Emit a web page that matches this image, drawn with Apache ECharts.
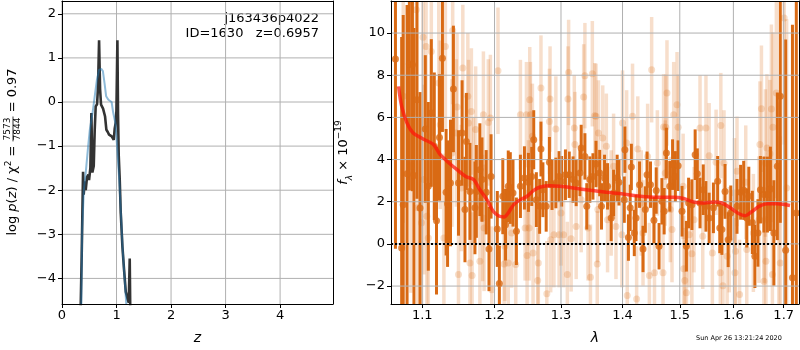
<!DOCTYPE html>
<html>
<head>
<meta charset="utf-8">
<script src="https://cdn.jsdelivr.net/npm/echarts@6/dist/echarts.min.js"></script>
<style>
  html, body { margin: 0; padding: 0; background: #fff; }
  #chart { width: 800px; height: 350px; }
</style>
</head>
<body>
<div id="chart"></div>
<script>
/* p(z) panel */
var pzZ = [0.337, 0.361, 0.386, 0.398, 0.417, 0.435, 0.459, 0.484, 0.496, 0.52, 0.539, 0.557, 0.582, 0.60, 0.618,
  0.643, 0.661, 0.680, 0.698, 0.716, 0.753, 0.79, 0.814, 0.839, 0.863, 0.887, 0.912, 0.949, 0.967, 0.985,
  0.998, 1.016, 1.028, 1.04, 1.059, 1.077, 1.108, 1.138, 1.169, 1.2, 1.224, 1.242, 1.254]
var pzLogP = [-5.0, -3.5, -1.58, -2.1, -1.8, -2.0, -1.7, -1.65, -1.77, -1.5, -0.25, -1.6, -1.45, -0.63, -0.1,
  -0.05, 0.35, 1.40, 0.3, -0.06, -0.15, -0.33, -0.63, -0.68, -0.74, -0.72, -0.78, -0.86, -0.6, -0.47,
  -0.2, 1.40, -0.3, -1.2, -1.77, -2.5, -3.28, -3.8, -4.3, -4.45, -4.55, -3.55, -5.0]
var fitZ = [0.35, 0.37, 0.40, 0.44, 0.48, 0.51, 0.56, 0.60, 0.64, 0.68, 0.72, 0.75, 0.78, 0.81, 0.85, 0.88,
  0.91, 0.94, 0.98, 1.01, 1.05, 1.08, 1.11, 1.15, 1.18, 1.21]
var fitLogP = [-5.0, -2.9, -2.0, -1.54, -1.0, -0.63, -0.25, 0.13, 0.5, 0.73, 0.75, 0.7, 0.43, 0.13, 0.05, 0.06,
  0.0, -0.25, -0.48, -1.0, -1.77, -2.5, -3.28, -4.04, -4.6, -5.2]
var zTicks = [0, 1, 2, 3, 4]
var logPTicks = [-4, -3, -2, -1, 0, 1, 2]

/* spectrum panel */
var darkWave = [1.065, 1.073, 1.075, 1.080, 1.083, 1.087, 1.089, 1.093, 1.097, 1.104, 1.108, 1.112, 1.116, 1.119,
  1.123, 1.127, 1.132, 1.134, 1.138, 1.142, 1.149, 1.154, 1.158, 1.160, 1.165, 1.172, 1.174, 1.179, 1.182,
  1.188, 1.192, 1.195, 1.204, 1.207, 1.212, 1.216, 1.220, 1.223, 1.227, 1.232, 1.238, 1.244, 1.250, 1.255,
  1.258, 1.262, 1.267, 1.269, 1.272, 1.277, 1.282, 1.286, 1.292, 1.297, 1.301, 1.307, 1.313, 1.319, 1.324,
  1.330, 1.332, 1.338, 1.341, 1.346, 1.351, 1.356, 1.362, 1.365, 1.370, 1.375, 1.381, 1.385, 1.391, 1.394,
  1.403, 1.404, 1.410, 1.413, 1.415, 1.420, 1.423, 1.429, 1.435, 1.439, 1.442, 1.448, 1.454, 1.458, 1.463,
  1.468, 1.472, 1.476, 1.482, 1.487, 1.492, 1.497, 1.504, 1.512, 1.516, 1.522, 1.528, 1.532, 1.537, 1.543,
  1.548, 1.554, 1.562, 1.570, 1.574, 1.578, 1.584, 1.590, 1.595, 1.607, 1.614, 1.620, 1.626, 1.630, 1.637,
  1.642, 1.648, 1.653, 1.660, 1.667, 1.673, 1.680, 1.687, 1.693, 1.704, 1.718, 1.726]
var darkFlux = [8.77, -0.19, 1.86, 3.33, 8.53, 8.5, 3.24, 6.84, 1.7, 5.45, 2.73, 6.21, 4.63, 1.1,
  5.05, 8.81, 2.45, 1.91, 2.89, 7.35, 2.89, 5.26, 1.63, 4.86, 2.49, 1.71, 2.49, 3.52, 3.05,
  2.45, -0.24, 3.2, 0.71, -1.88, 2.26, 0.91, 2.73, 2.65, 2.42, 0.6, 2.73, 3.13, 2.92, 3.2,
  4.94, 2.1, 1.78, 4.5, 2.57, 1.78, 3.87, 2.81, 2.89, 3.2, 2.97, 3.28, 3.28, 3.05, 2.89,
  3.36, 4.55, 4.15, 1.78, 3.05, 3.2, 3.79, 3.36, 1.78, 3.13, 2.73, 1.23, 2.42, 3.13, 2.92,
  2.1, 4.47, 0.3, 1.71, 3.65, 0.52, 1.23, 2.81, -0.24, 1.63, 3.28, 2.81, 1.12, 2.53, -0.11,
  2.02, 1.55, 4.31, 2.73, 3.76, 3.2, 3.71, 1.55, -0.11, 1.94, 1.86, 4.23, 3.33, 1.94, 2.57,
  1.78, 1.23, 1.71, 2.97, 0.76, 0.68, 2.49, 0.2, 1.47, 1.78, 2.45, 2.54, 1.23, 2.26, 1.02,
  -0.59, 0.52, 2.57, 2.34, 2.34, 2.61, 0.52, 3.68, 7.0, -0.3, -1.61, 1.47]
var darkErr = [9, 10, 9, 8, 6, 6, 7, 4.7, 5.5, 3.5, 4, 3.5, 3.5, 3.5,
  3, 3.5, 3, 3, 3, 3, 2.5, 2.5, 2.5, 2.3, 2.3, 2.2, 2.2, 2.2, 2,
  2, 2, 2, 1.8, 1.8, 1.8, 1.7, 1.7, 1.7, 1.6, 1.6, 1.5, 1.5, 1.4, 1.4,
  1.4, 1.3, 1.3, 1.3, 1.3, 1.2, 1.2, 1.2, 1.2, 1.2, 1.2, 1.2, 1.1, 1.1, 1.1,
  1.1, 1.1, 1.1, 1.1, 1.1, 1.1, 1.1, 1.1, 1.1, 1.1, 1.1, 1.1, 1.1, 1.1, 1.1,
  1.1, 1.1, 1.1, 1.1, 1.1, 1.1, 1.1, 1.1, 1.1, 1.1, 1.1, 1.1, 1.1, 1.1, 1.1,
  1.1, 1.1, 1.2, 1.2, 1.2, 1.2, 1.2, 1.2, 1.2, 1.2, 1.2, 1.2, 1.2, 1.2, 1.2,
  1.2, 1.2, 1.2, 1.2, 1.2, 1.2, 1.3, 1.3, 1.3, 1.3, 1.3, 1.4, 1.4, 1.4, 1.5,
  1.5, 1.6, 1.6, 1.8, 1.8, 2, 2.5, 3.5, 6, 10, 12, 10]

var lightWave = [1.075, 1.085, 1.092, 1.094, 1.099, 1.101, 1.102, 1.105, 1.106, 1.108, 1.112, 1.122, 1.124,
  1.129, 1.131, 1.140, 1.141, 1.146, 1.147, 1.149, 1.153, 1.155, 1.162, 1.163, 1.165, 1.167, 1.168, 1.170,
  1.173, 1.179, 1.183, 1.184, 1.185, 1.191, 1.194, 1.196, 1.205, 1.214, 1.215, 1.220, 1.225, 1.231, 1.238,
  1.245, 1.247, 1.248, 1.250, 1.251, 1.252, 1.253, 1.256, 1.257, 1.264, 1.265, 1.269, 1.278, 1.282, 1.283,
  1.284, 1.289, 1.292, 1.297, 1.300, 1.304, 1.310, 1.311, 1.312, 1.316, 1.321, 1.322, 1.324, 1.332, 1.336,
  1.338, 1.343, 1.347, 1.350, 1.354, 1.356, 1.358, 1.359, 1.360, 1.367, 1.373, 1.375, 1.381, 1.385, 1.389,
  1.399, 1.400, 1.407, 1.408, 1.417, 1.424, 1.426, 1.432, 1.435, 1.443, 1.446, 1.450, 1.455, 1.460, 1.470,
  1.471, 1.474, 1.475, 1.477, 1.483, 1.486, 1.489, 1.495, 1.497, 1.506, 1.507, 1.509, 1.512, 1.517, 1.522,
  1.526, 1.537, 1.542, 1.548, 1.554, 1.560, 1.567, 1.575, 1.576, 1.580, 1.582, 1.588, 1.592, 1.602, 1.603,
  1.604, 1.607, 1.612, 1.624, 1.626, 1.639, 1.650, 1.652, 1.655, 1.660, 1.661, 1.663, 1.664, 1.666, 1.672,
  1.675, 1.677, 1.678, 1.685, 1.690, 1.693, 1.701, 1.706]
var lightFlux = [7.0, 3.68, 11.1, 1.71, 1.0, 9.8, 3.05, 9.36, 1.31, 0.28, 9.13, 7.63, 5.65,
  0.28, 9.36, 4.31, 10.12, 5.26, 6.49, -1.45, 2.65, 8.34, 7.0, 5.73, -0.9, 6.28, -1.5, 2.97,
  5.42, -0.82, 1.23, 6.13, 0.76, 5.76, 5.97, -2.17, 8.21, -0.95, -0.11, -0.9, 0.52, -0.98, 6.13,
  0.76, 6.13, -0.55, 2.42, 0.76, 6.84, 6.13, 5.1, -0.43, -1.74, -0.9, 7.39, -2.36, 5.81, 6.87,
  0.2, 0.44, 5.45, 0.44, 1.47, 0.44, -1.45, 6.87, 8.13, 0.24, 5.5, 4.71, 0.83, 2.1, 6.97,
  7.98, 0.76, -1.58, 8.07, 6.08, 6.05, -0.95, 1.63, 5.26, 5.02, 4.63, 1.15, 1.94, 3.68, 0.83,
  0.44, 5.73, 4.79, -2.45, 6.05, -2.61, 4.5, 1.94, 0.52, 4.15, -1.5, 8.26, -1.37, 3.84, -1.37,
  5.55, 3.36, 5.53, 7.16, 1.63, 0.68, 6.13, 6.6, 5.53, 2.73, -1.18, -1.74, -2.32, 0.44, -0.47,
  1.15, 5.5, 0.36, 5.5, 4.18, -0.43, 3.87, -1.37, 5.61, -1.98, 3.84, -0.59, 0.2, 2.42, -1.37,
  -0.35, 3.44, -2.4, 2.92, -0.27, 0.52, 1.15, 4.71, 6.41, -1.77, 1.15, 3.84, -0.82, 4.55, 4.28,
  6.4, -1.45, 5.53, 7.16, 1.71, -0.9, 10.71, 2.65]
var lightErr = [6, 6, 5, 5, 5, 4.5, 4.5, 4.5, 4.5, 4.5, 4, 4, 4,
  4, 4, 3.5, 3.5, 3.5, 3.5, 3.5, 3, 3, 3, 3, 3, 3, 3, 3,
  3, 3, 3, 3, 3, 3, 3, 3, 3, 2.6, 2.6, 2.6, 2.6, 2.6, 2.6,
  2.5, 2.5, 2.5, 2.5, 2.5, 2.5, 2.5, 2.5, 2.5, 2.5, 2.5, 2.5, 2.5, 2.5, 2.5,
  2.5, 2.5, 2.5, 2.5, 2.5, 2.5, 2.5, 2.5, 2.5, 2.5, 2.5, 2.5, 2.5, 2.5, 2.5,
  2.5, 2.5, 2.5, 2.5, 2.5, 2.5, 2.5, 2.5, 2.5, 2.5, 2.5, 2.5, 2.5, 2.5, 2.5,
  2.5, 2.5, 2.5, 2.5, 2.5, 2.5, 2.5, 2.5, 2.5, 2.5, 2.5, 2.5, 2.5, 2.5, 2.5,
  2.5, 2.5, 2.5, 2.5, 2.5, 2.5, 2.5, 2.5, 2.5, 2.5, 2.5, 2.5, 2.5, 2.5, 2.5,
  2.5, 2.5, 2.5, 2.5, 2.5, 2.5, 2.5, 2.5, 2.5, 2.5, 2.5, 2.5, 2.5, 2.6, 2.6,
  2.6, 2.6, 2.6, 2.7, 2.7, 2.8, 3, 3, 3, 3, 3, 3.5, 3.5, 3.5, 3.5,
  4, 4, 4.5, 5, 5, 6, 6, 8]

var modelWave = [1.069, 1.073, 1.080, 1.088, 1.101, 1.115, 1.124, 1.136, 1.147, 1.159, 1.170, 1.179, 1.189,
  1.198, 1.207, 1.214, 1.220, 1.228, 1.238, 1.248, 1.258, 1.268, 1.283, 1.298, 1.320, 1.347, 1.373, 1.401,
  1.430, 1.459, 1.489, 1.507, 1.525, 1.541, 1.563, 1.578, 1.594, 1.610, 1.623, 1.637, 1.650, 1.667, 1.687, 1.713]
var modelFlux = [7.47, 6.52, 5.73, 5.26, 4.98, 4.71, 4.23, 3.84, 3.52, 3.2, 3.05, 2.57, 2.1,
  1.55, 1.31, 1.28, 1.47, 1.86, 2.1, 2.26, 2.54, 2.7, 2.76, 2.73, 2.65, 2.54, 2.45, 2.37,
  2.26, 2.21, 2.21, 2.15, 1.99, 1.94, 1.99, 1.94, 1.71, 1.44, 1.34, 1.55, 1.78, 1.9, 1.9, 1.82]
var zeroWave = [1.0593, 1.714]
var waveTicks = [1.1, 1.2, 1.3, 1.4, 1.5, 1.6, 1.7]
var fluxTicks = [-2, 0, 2, 4, 6, 8, 10]
var waveRange = [1.0593, 1.7316]
var fluxRange = [-2.85, 11.52]

var orange = '217,106,20'
var FONT = 'DejaVu Sans'
var GRID_GRAY = '#b0b0b0'

function pairs(xs, ys, fx) {
  return xs.map(function (x, i) { return [fx ? fx(x) : x, ys[i]] })
}
function triples(xs, ys, es) {
  return xs.map(function (x, i) { return [Math.log(x), ys[i], es[i]] })
}
function minusFmt(v) {
  return v < 0 ? '\u2212' + Math.abs(v) : String(v)
}

// 误差棒：通过坐标轴换算画竖线
function errorBar(color, width) {
  return function (params, api) {
    var x = api.value(0), y = api.value(1), e = api.value(2)
    var top = api.coord([x, y + e])
    var bot = api.coord([x, y - e])
    return {
      type: 'line',
      shape: { x1: top[0], y1: top[1], x2: bot[0], y2: bot[1] },
      style: { stroke: color, lineWidth: width }
    }
  }
}

// 网格线：第三维 0 = 竖线，1 = 横线
function gridRender(params, api) {
  var cs = params.coordSys
  var p = api.coord([api.value(0), api.value(1)])
  var vertical = api.value(2) === 0
  var shape = vertical
    ? { x1: p[0], y1: cs.y, x2: p[0], y2: cs.y + cs.height }
    : { x1: cs.x, y1: p[1], x2: cs.x + cs.width, y2: p[1] }
  return { type: 'line', shape: shape, style: { stroke: GRID_GRAY, lineWidth: 1 } }
}
function gridData(xs, ys, x0, y0) {
  return xs.map(function (v) { return [v, y0, 0] }).concat(ys.map(function (v) { return [x0, v, 1] }))
}

function tickLabel(extra) {
  return Object.assign({ color: '#000', fontFamily: FONT, fontSize: 13, margin: 5 }, extra)
}
function frameLine() {
  return { show: true, onZero: false, lineStyle: { color: '#000', width: 1 } }
}
function frameAxis(grid, pos, min, max) {
  return {
    gridIndex: grid, type: 'value', position: pos, min: min, max: max, z: 10,
    axisLine: frameLine(), axisTick: { show: false }, axisLabel: { show: false }, splitLine: { show: false }
  }
}

/* 左侧 y 轴标题：分数上下叠放 */
var measureCtx = document.createElement('canvas').getContext('2d')
function textWidth(str, font) {
  measureCtx.font = font
  return measureCtx.measureText(str).width
}
function buildPzLabel(cx, cy) {
  var normal = '13px "DejaVu Sans"'
  var italic = 'italic 13px "DejaVu Sans"'
  var small = '9px "DejaVu Sans"'
  var parts = [
    { t: 'log ', f: normal }, { t: 'p', f: italic }, { t: '(', f: normal }, { t: 'z', f: italic },
    { t: ') / χ', f: normal }, { t: '2', f: small, dy: -4 }, { t: ' = ', f: normal },
    { frac: ['7573', '7844'] }, { t: ' = 0.97', f: normal }
  ]
  var children = []
  var x = 0
  parts.forEach(function (p) {
    if (p.frac) {
      var w = Math.max(textWidth(p.frac[0], small), textWidth(p.frac[1], small)) + 2
      children.push({ type: 'text', x: x + w / 2, y: -5, style: { text: p.frac[0], font: small, fill: '#000', textAlign: 'center', textVerticalAlign: 'middle' } })
      children.push({ type: 'text', x: x + w / 2, y: 5, style: { text: p.frac[1], font: small, fill: '#000', textAlign: 'center', textVerticalAlign: 'middle' } })
      children.push({ type: 'line', shape: { x1: x, y1: 0, x2: x + w, y2: 0 }, style: { stroke: '#000', lineWidth: 0.8 } })
      x += w
    } else {
      children.push({ type: 'text', x: x, y: p.dy || 0, style: { text: p.t, font: p.f, fill: '#000', textAlign: 'left', textVerticalAlign: 'middle' } })
      x += textWidth(p.t, p.f)
    }
  })
  children.forEach(function (c) {
    if (c.type === 'line') { c.shape.x1 -= x / 2; c.shape.x2 -= x / 2 } else { c.x -= x / 2 }
  })
  return { type: 'group', x: cx, y: cy, rotation: Math.PI / 2, children: children }
}

var logWave = waveTicks.map(function (w) { return Math.log(w) })
var wMin = Math.log(waveRange[0]), wMax = Math.log(waveRange[1])

var chart = echarts.init(document.getElementById('chart'), null, { renderer: 'canvas' })
chart.setOption({
  animation: false,
  backgroundColor: '#fff',
  grid: [
    { left: 62, top: 1, width: 271, height: 303 },
    { left: 391, top: 1, width: 408, height: 303 }
  ],
  xAxis: [
    {
      gridIndex: 0, type: 'value', min: 0, max: 4.97, z: 10,
      name: 'z', nameLocation: 'middle', nameGap: 27,
      nameTextStyle: { color: '#000', fontFamily: FONT, fontSize: 14, fontStyle: 'italic' },
      axisLine: frameLine(),
      axisTick: { show: true, length: 4, lineStyle: { color: '#000' }, customValues: zTicks },
      axisLabel: tickLabel({ customValues: zTicks }),
      splitLine: { show: false }
    },
    frameAxis(0, 'top', 0, 4.97),
    {
      gridIndex: 1, type: 'value', min: wMin, max: wMax, z: 10,
      name: 'λ', nameLocation: 'middle', nameGap: 27,
      nameTextStyle: { color: '#000', fontFamily: FONT, fontSize: 14, fontStyle: 'italic' },
      axisLine: frameLine(),
      axisTick: { show: true, length: 4, lineStyle: { color: '#000' }, customValues: logWave },
      axisLabel: tickLabel({
        customValues: logWave,
        formatter: function (v) { return Math.exp(v).toFixed(1) }
      }),
      splitLine: { show: false }
    },
    frameAxis(1, 'top', wMin, wMax)
  ],
  yAxis: [
    {
      gridIndex: 0, type: 'value', min: -4.58, max: 2.29, z: 10,
      axisLine: frameLine(),
      axisTick: { show: true, length: 4, lineStyle: { color: '#000' }, customValues: logPTicks },
      axisLabel: tickLabel({ margin: 6, customValues: logPTicks, formatter: minusFmt }),
      splitLine: { show: false }
    },
    frameAxis(0, 'right', -4.58, 2.29),
    {
      gridIndex: 1, type: 'value', min: fluxRange[0], max: fluxRange[1], z: 10,
      name: '{i|f}{s|λ}{a| × 10}{p|−19}',
      nameLocation: 'middle', nameGap: 37,
      nameTextStyle: {
        color: '#000', fontFamily: FONT, fontSize: 13,
        rich: {
          a: { fontFamily: FONT, fontSize: 13, color: '#000', lineHeight: 20 },
          i: { fontFamily: FONT, fontSize: 13, fontStyle: 'italic', color: '#000', lineHeight: 20 },
          s: { fontFamily: FONT, fontSize: 9, fontStyle: 'italic', color: '#000', verticalAlign: 'bottom', lineHeight: 20 },
          p: { fontFamily: FONT, fontSize: 9, color: '#000', verticalAlign: 'top', lineHeight: 20 }
        }
      },
      axisLine: frameLine(),
      axisTick: { show: true, length: 4, lineStyle: { color: '#000' }, customValues: fluxTicks },
      axisLabel: tickLabel({ margin: 6, customValues: fluxTicks, formatter: minusFmt }),
      splitLine: { show: false }
    },
    frameAxis(1, 'right', fluxRange[0], fluxRange[1])
  ],
  series: [
    {
      type: 'custom', xAxisIndex: 0, yAxisIndex: 0, z: 1, silent: true,
      renderItem: gridRender, encode: { x: 0, y: 1 },
      data: gridData(zTicks, logPTicks, 1, 0)
    },
    {
      type: 'line', xAxisIndex: 0, yAxisIndex: 0, symbol: 'none', clip: true, z: 3,
      lineStyle: { color: '#333333', width: 2.6 },
      data: pairs(pzZ, pzLogP)
    },
    {
      type: 'line', xAxisIndex: 0, yAxisIndex: 0, symbol: 'none', clip: true, z: 4,
      lineStyle: { color: 'rgba(31,119,180,0.5)', width: 2 },
      data: pairs(fitZ, fitLogP)
    },
    {
      type: 'custom', xAxisIndex: 2, yAxisIndex: 2, clip: true, z: 2,
      renderItem: errorBar('rgba(' + orange + ',0.22)', 3.5),
      encode: { x: 0, y: 1 },
      data: triples(lightWave, lightFlux, lightErr)
    },
    {
      type: 'scatter', xAxisIndex: 2, yAxisIndex: 2, symbolSize: 7, z: 2,
      itemStyle: { color: 'rgba(' + orange + ',0.28)' },
      data: triples(lightWave, lightFlux, lightErr)
    },
    {
      type: 'custom', xAxisIndex: 2, yAxisIndex: 2, clip: true, z: 2,
      renderItem: errorBar('rgb(' + orange + ')', 3),
      encode: { x: 0, y: 1 },
      data: triples(darkWave, darkFlux, darkErr)
    },
    {
      type: 'custom', xAxisIndex: 2, yAxisIndex: 2, z: 3, silent: true,
      renderItem: gridRender, encode: { x: 0, y: 1 },
      data: gridData(logWave, fluxTicks, Math.log(1.3), 0)
    },
    {
      type: 'scatter', xAxisIndex: 2, yAxisIndex: 2, symbolSize: 7, z: 4,
      itemStyle: { color: 'rgb(' + orange + ')' },
      data: triples(darkWave, darkFlux, darkErr)
    },
    {
      type: 'line', xAxisIndex: 2, yAxisIndex: 2, symbol: 'none', smooth: 0.3, z: 5,
      lineStyle: { color: 'rgba(255,20,10,0.72)', width: 3.5 },
      data: pairs(modelWave, modelFlux, Math.log)
    },
    {
      type: 'line', xAxisIndex: 2, yAxisIndex: 2, symbol: 'none', z: 6,
      lineStyle: { color: '#000', width: 2, type: [2, 2] },
      data: pairs(zeroWave, [0, 0], Math.log)
    }
  ],
  graphic: [
    buildPzLabel(13, 152),
    {
      type: 'text', right: 800 - 319, top: 12,
      style: { text: 'j163436p4022', fill: '#000', font: '13px "DejaVu Sans"', textAlign: 'right' }
    },
    {
      type: 'text', right: 800 - 319, top: 27,
      style: { text: 'ID=1630   z=0.6957', fill: '#000', font: '13px "DejaVu Sans"', textAlign: 'right' }
    },
    {
      type: 'text', left: 696, top: 335,
      style: { text: 'Sun Apr 26 13:21:24 2020', fill: '#000', font: '6.5px "DejaVu Sans"' }
    }
  ]
})
</script>
</body>
</html>
